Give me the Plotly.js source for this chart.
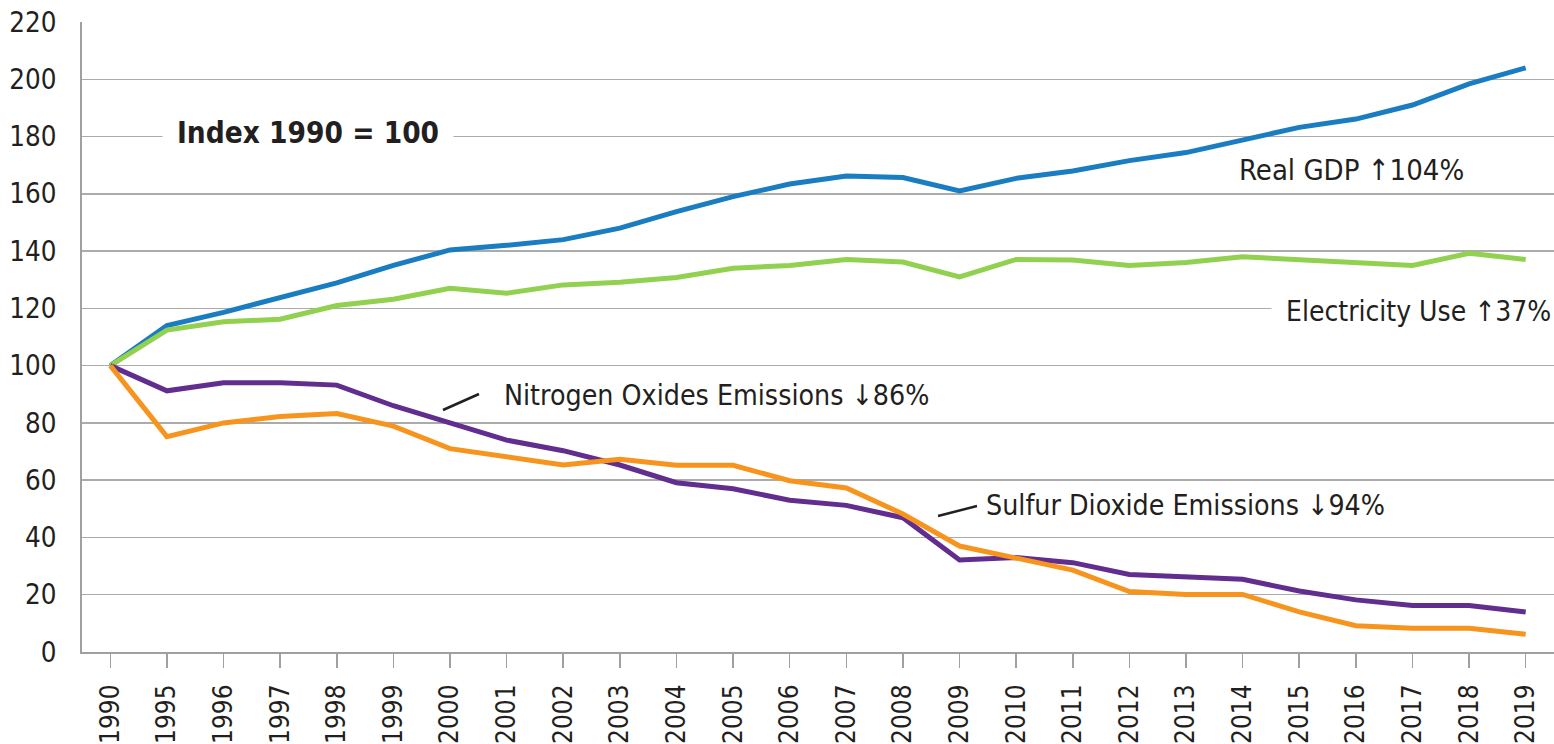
<!DOCTYPE html>
<html>
<head>
<meta charset="utf-8">
<script src="https://cdn.plot.ly/plotly-3.0.1.min.js"></script>
<style>
  html, body { margin: 0; padding: 0; background: #ffffff; }
  #chart { width: 1554px; height: 744px; }
</style>
</head>
<body>
<div id="chart"></div>
<script>
// ---- Data (Index 1990 = 100) ----
const years = ["1990","1995","1996","1997","1998","1999","2000","2001","2002","2003","2004","2005","2006","2007","2008","2009","2010","2011","2012","2013","2014","2015","2016","2017","2018","2019"];
const realGDP = [100,114,118.6,123.6,128.9,135,140.4,142,144,148,153.8,159,163.4,166.2,165.7,161,165.4,168,171.6,174.4,179,183.2,186.1,191,198.4,204];
const electricityUse = [100,112.4,115.3,116.2,121,123.2,127,125.3,128.2,129.1,130.8,134,135,137.1,136.2,131,137.1,136.9,135,136,138,137.1,136.3,135,139.2,137.1];
const noxEmissions = [100,91.2,94,94,93.2,86,80,74,70.3,65.3,59.1,57,53,51.2,46.9,32.1,33,31.2,27.1,26.3,25.4,21.3,18.2,16.2,16.2,14];
const so2Emissions = [100,75.2,80,82.2,83.3,78.9,71,68.2,65.3,67.3,65.2,65.2,59.8,57.3,48.2,37,33,28.6,21.1,20.1,20.1,14,9.2,8.3,8.3,6.2];
const yTicks = [0,20,40,60,80,100,120,140,160,180,200,220];
const labels = {
  index: "Index 1990 = 100",
  gdp: "Real GDP \u2191104%",
  elec: "Electricity Use \u219137%",
  nox: "Nitrogen Oxides Emissions \u219386%",
  so2: "Sulfur Dioxide Emissions \u219394%"
};

const FONT = "'DejaVu Sans Condensed', 'Liberation Sans', Arial, sans-serif";

function lineTrace(y, color) {
  return {
    type: "scatter", mode: "lines", x: years, y: y,
    line: { color: color, width: 5, shape: "linear" },
    hoverinfo: "skip", showlegend: false
  };
}

const traces = [
  lineTrace(realGDP, "#1a7dc1"),
  lineTrace(electricityUse, "#92d050"),
  lineTrace(noxEmissions, "#612d8e"),
  lineTrace(so2Emissions, "#f7941d")
];

// plot area: x 82..1554, y 22..652
const L = 82, T = 22, W = 1472, H = 630;
const px = v => (v - L) / W;
const py = v => (T + H - v) / H;

function ann(text, x, y, size, opts) {
  return Object.assign({
    xref: "paper", yref: "paper", x: px(x), y: py(y),
    xanchor: "left", yanchor: "middle",
    text: text, showarrow: false,
    font: { family: FONT, size: size, color: "#231f20" },
    bgcolor: "rgba(0,0,0,0)", borderpad: 0
  }, opts || {});
}

const layout = {
  width: 1554, height: 744,
  margin: { l: L, r: 0, t: T, b: 744 - T - H },
  paper_bgcolor: "#ffffff", plot_bgcolor: "#ffffff",
  font: { family: FONT, color: "#231f20" },
  showlegend: false,
  xaxis: {
    type: "category", range: [-0.5, 25.5],
    tickmode: "array", tickvals: years, ticktext: years,
    tickangle: -90, ticks: "outside", ticklen: 14, tickwidth: 1.5, tickcolor: "#a0a0a0",
    ticklabelstandoff: 6,
    tickfont: { family: FONT, size: 26, color: "#231f20" },
    showline: true, linecolor: "#a0a0a0", linewidth: 2,
    showgrid: false, zeroline: false, fixedrange: true
  },
  yaxis: {
    range: [0, 220], tickmode: "array", tickvals: yTicks,
    ticks: "", ticklabelstandoff: 18,
    tickfont: { family: FONT, size: 27.5, color: "#231f20" },
    showline: true, linecolor: "#a0a0a0", linewidth: 2,
    showgrid: true, gridcolor: "#ababab", gridwidth: 1.5,
    zeroline: false, fixedrange: true
  },
  annotations: [
    ann("<b>" + labels.index + "</b>", 162, 133, 29.5, { bgcolor: "#ffffff", borderpad: 14 }),
    ann(labels.gdp, 1238, 170, 29),
    ann(labels.elec, 1271, 311, 28, { bgcolor: "#ffffff", borderpad: 14 }),
    ann(labels.nox, 503, 395, 28.3),
    ann(labels.so2, 985, 506, 28.3)
  ],
  shapes: [
    { type: "line", xref: "paper", yref: "paper", x0: px(443), y0: py(410), x1: px(479), y1: py(394), line: { color: "#231f20", width: 2.5 } },
    { type: "line", xref: "paper", yref: "paper", x0: px(938), y0: py(516), x1: px(977), y1: py(506), line: { color: "#231f20", width: 2.5 } }
  ]
};

Plotly.newPlot("chart", traces, layout, { displayModeBar: false, staticPlot: true });
</script>
</body>
</html>
